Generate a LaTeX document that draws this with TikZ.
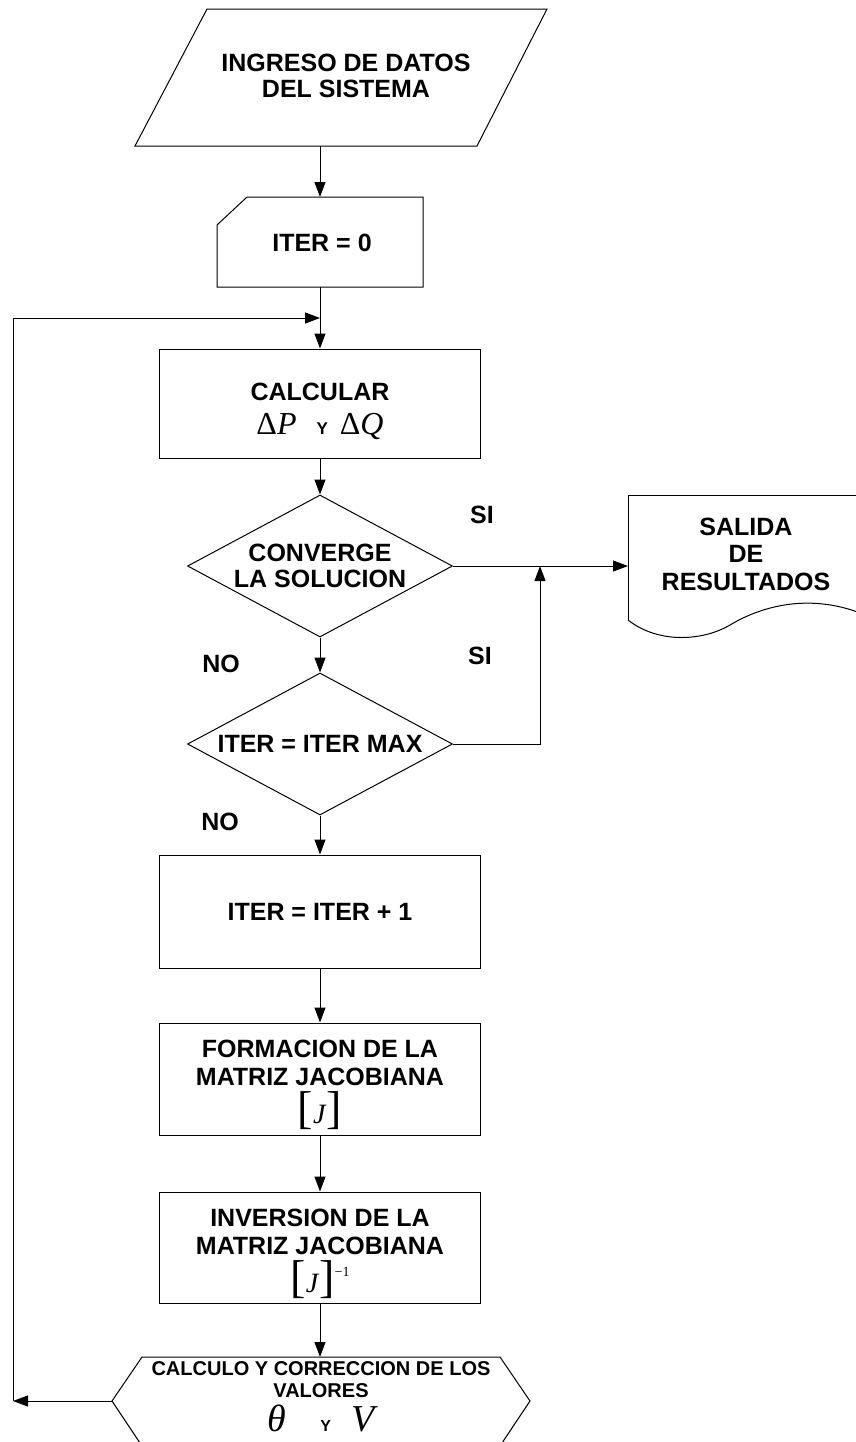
\documentclass[tikz,border=0pt]{standalone}
\usepackage{fontspec}
\setmainfont{Liberation Sans}
\newfontfamily\serifmat{Liberation Serif}
\usetikzlibrary{positioning,arrows.meta,shapes.geometric}

\newcommand{\letra}{\bfseries\fontsize{12.5}{13}\selectfont}
\newcommand{\letrachica}{\bfseries\fontsize{10}{11}\selectfont}
\newcommand{\vmat}[2]{{\mdseries\serifmat\itshape\fontsize{#1}{#1}\selectfont #2}}
\newcommand{\ychica}{{\bfseries\fontsize{8.5}{8.5}\selectfont Y}}
\newcommand{\matj}{{\mdseries\serifmat\fontsize{23}{23}\selectfont[}\vmat{14}{J\/}{\mdseries\serifmat\fontsize{23}{23}\selectfont]}}

\tikzset{
    linea/.style={line width=0.5pt},
    flecha/.style={linea,-{Triangle[length=7.5pt,width=5.5pt]}},
    proceso/.style={draw,linea,rectangle,minimum width=160.5pt,inner sep=0pt,align=center,font=\letra},
    decision/.style={draw,linea,diamond,minimum width=132.5pt,minimum height=71pt,inner sep=0pt},
    texto/.style={align=center,font=\letra,inner sep=0pt},
}

\begin{document}
\begin{tikzpicture}[x=0.5pt,y=-0.5pt]
    \useasboundingbox (0,0) rectangle (856,1442);

    % ingreso de datos
    \draw[linea] (207,9) -- (547,9) -- (477,146) -- (135,146) -- cycle;
    \node[texto] (ingreso) at (346,76) {INGRESO DE DATOS\\DEL SISTEMA};
    \coordinate (ingreso-s) at (320,146);

    % iter = 0
    \draw[linea] (247,197) -- (423,197) -- (423,287) -- (217,287) -- (217,225) -- cycle;
    \node[texto] (iter0) at (322,243) {ITER = 0};
    \coordinate (iter0-n) at (320,197);
    \coordinate (iter0-s) at (320,287);
    \coordinate (lazo) at (320,318);
    \coordinate (lazo-b) at (13,1401);

    \node[proceso,minimum height=54.5pt] (calcular) at (320,403.5) {};
    \node[texto] (calcular-txt) at (320,411.5)
        {CALCULAR\\[4.25pt]\vmat{16}{{\upshape Δ}P}\hspace{10pt}\ychica\hspace{6pt}\vmat{16}{{\upshape Δ}Q}};

    % decisiones
    \node[decision] (converge) at (320,566) {};
    \node[texto] (converge-txt) at (converge) {CONVERGE\\LA SOLUCION};
    \node[decision] (itermax) at (320,744) {};
    \node[texto] (itermax-txt) at (itermax) {ITER = ITER MAX};

    % salida de resultados
    \draw[linea] (628,620) -- (628,495) -- (900,495);
    \draw[linea] (628,620) .. controls (660,645) and (705,640) .. (730,625)
        .. controls (765,604) and (820,590) .. (880,622);
    \node[texto,font=\bfseries\fontsize{12.5}{13.75}\selectfont] (salida) at (746,554) {SALIDA\\DE\\RESULTADOS};
    \coordinate (salida-w) at (628,566);
    \coordinate (union) at (540,566);

    \node[texto] (si-a) at (482,515) {SI};
    \node[texto] (si-b) at (480,656) {SI};
    \node[texto] (no-a) at (221,664) {NO};
    \node[texto] (no-b) at (220,822) {NO};

    \node[proceso,minimum height=56.5pt] (iter1) at (320,911.5) {ITER = ITER + 1};
    \node[proceso,minimum height=56pt] (formacion) at (320,1079) {};
    \node[texto] (formacion-txt) at (320,1085)
        {FORMACION DE LA\\[1pt]MATRIZ JACOBIANA\\[2pt]\matj};
    \node[proceso,minimum height=55.5pt] (inversion) at (320,1247.5) {};
    \node[texto] (inversion-txt) at (320,1254)
        {INVERSION DE LA\\[1pt]MATRIZ JACOBIANA\\[2pt]\matj\raisebox{8pt}{\vmat{7}{\upshape −1}}};

    % calculo y correccion
    \draw[linea] (142,1357) -- (500,1357) -- (530,1401) -- (500,1446) -- (142,1446) -- (112,1401) -- cycle;
    \node[texto,font=\letrachica] (correccion) at (321,1397)
        {CALCULO Y CORRECCION DE LOS\\VALORES\\[2.5pt]\vmat{19}{θ}\hspace{17pt}{\bfseries\fontsize{8}{8}\selectfont Y}\hspace{10pt}\vmat{19}{V}};
    \coordinate (correccion-n) at (320,1357);
    \coordinate (correccion-w) at (112,1401);

    \draw[flecha] (ingreso-s) -- (iter0-n);
    \draw[flecha] (iter0-s) -- (calcular.north);
    \draw[flecha] (calcular.south) -- (converge.north);
    \draw[flecha] (converge.south) -- (itermax.north);
    \draw[flecha] (converge.east) -- (salida-w);
    \draw[flecha] (itermax.east) -| (union);
    \draw[flecha] (itermax.south) -- (iter1.north);
    \draw[flecha] (iter1.south) -- (formacion.north);
    \draw[flecha] (formacion.south) -- (inversion.north);
    \draw[flecha] (inversion.south) -- (correccion-n);
    \draw[flecha] (correccion-w) -- (lazo-b);
    \draw[flecha] (lazo-b) |- (lazo);
\end{tikzpicture}
\end{document}
